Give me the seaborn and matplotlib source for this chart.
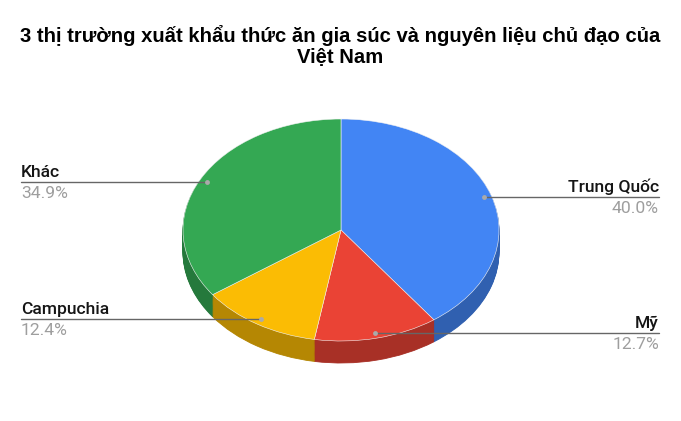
import numpy as np
import matplotlib
matplotlib.use('Agg')
import matplotlib.pyplot as plt
import matplotlib.colors as mcolors
import seaborn as sns

title_lines = ['3 thị trường xuất khẩu thức ăn gia súc và nguyên liệu chủ đạo của',
               'Việt Nam']
markets = ['Trung Quốc', 'Mỹ', 'Campuchia', 'Khác']
shares = [40.0, 12.7, 12.4, 34.9]
palette = ['#4285F4', '#EA4335', '#FBBC04', '#34A853']

sns.set_theme(style='white')
plt.rcParams['font.family'] = ['Roboto', 'DejaVu Sans']

W, H = 681, 421
fig = plt.figure(figsize=(W / 100, H / 100), dpi=100)
fig.patch.set_facecolor('white')

# pie geometry in pixels
cx, cy, rx, ry, depth = 341, 230, 158, 111, 22
d = depth / ry

ax = fig.add_axes([(cx - rx) / W, 1 - (cy + ry + depth) / H,
                   2 * rx / W, (2 * ry + depth) / H])

side_colors = [tuple(c * 0.72 for c in mcolors.to_rgb(p)) for p in palette]
n_layers = 24
for k in range(n_layers, 0, -1):
    ax.pie(shares, colors=side_colors, startangle=90, counterclock=False,
           center=(0, -d * k / n_layers), radius=1,
           wedgeprops=dict(linewidth=0.6, antialiased=True))
for w, c in zip(ax.patches, [c for _ in range(n_layers) for c in side_colors]):
    w.set_edgecolor(c)
ax.pie(shares, colors=palette, startangle=90, counterclock=False,
       center=(0, 0), radius=1,
       wedgeprops=dict(linewidth=0.4, edgecolor='#f4f4f4'))
ax.set_aspect('auto')
ax.set_xlim(-1, 1)
ax.set_ylim(-1 - d, 1)
ax.axis('off')

# overlay axes in pixel units for labels
ov = fig.add_axes([0, 0, 1, 1], facecolor='none')
ov.set_xlim(0, W)
ov.set_ylim(H, 0)
ov.axis('off')

fig.canvas.draw()
cum = np.cumsum([0] + shares[:-1])
for name, val, start in zip(markets, shares, cum):
    mid = np.deg2rad((start + val / 2) / 100 * 360)
    px, py = ax.transData.transform((0.95 * np.sin(mid), 0.95 * np.cos(mid)))
    py = H - py
    right = np.sin(mid) > 0
    x_end = 659 if right else 21
    ov.plot([px, x_end], [py, py], color='#666666', lw=1)
    ov.plot(px, py, 'o', color='#aaaaaa', ms=3.5, mec='none')
    ha = 'right' if right else 'left'
    ov.text(x_end, py - 5, name, ha=ha, va='baseline', fontsize=12.6,
            color='#151515', fontweight='medium')
    ov.text(x_end, py + 16, f'{val:.1f}%', ha=ha, va='baseline', fontsize=12.6,
            color='#9e9e9e')

for line, base in zip(title_lines, [42, 63]):
    ov.text(340, base, line, ha='center', va='baseline', fontsize=14.6,
            fontweight='bold', color='#000000',
            family=['Liberation Sans', 'DejaVu Sans'])

fig.savefig('out.png', dpi=100)
